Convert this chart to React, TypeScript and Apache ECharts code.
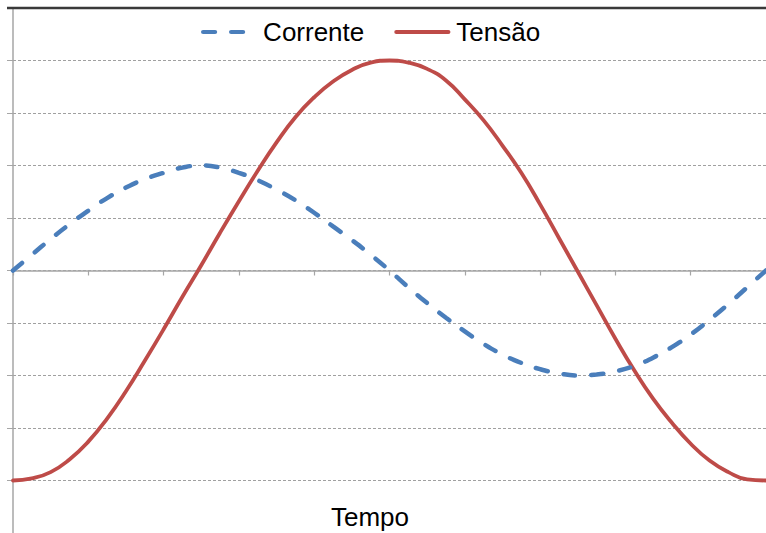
import React, { useEffect, useRef } from "react";
import * as echarts from "echarts";

// x positions (arbitrary time units)
const tempo = [
  0, 0.25, 0.5, 0.75, 1, 1.25, 1.5, 1.75, 2, 2.25, 2.5, 2.75, 3, 3.25, 3.5, 3.75, 4, 4.25, 4.5, 4.75,
  5, 5.25, 5.5, 5.75, 6, 6.25, 6.5, 6.75, 7, 7.25, 7.5, 7.75, 8, 8.25, 8.5, 8.75, 9, 9.25, 9.5, 9.75, 10,
];
// values
const corrente = [
  0, 0.15, 0.3, 0.44, 0.57, 0.69, 0.79, 0.87, 0.93, 0.98, 1.0, 0.98, 0.93, 0.86, 0.77, 0.67, 0.55, 0.42, 0.29, 0.15,
  0, -0.16, -0.31, -0.45, -0.58, -0.7, -0.8, -0.88, -0.94, -0.98, -1.0, -0.99, -0.96, -0.91, -0.83, -0.73, -0.61, -0.47, -0.32, -0.16, 0,
];
const tensao = [
  -2.0, -1.98, -1.92, -1.8, -1.63, -1.41, -1.15, -0.86, -0.56, -0.25, 0.05, 0.36, 0.66, 0.95, 1.22, 1.46, 1.65, 1.8, 1.91, 1.98,
  2.0, 1.98, 1.92, 1.81, 1.63, 1.43, 1.19, 0.93, 0.63, 0.31, -0.01, -0.33, -0.65, -0.95, -1.22, -1.45, -1.65, -1.81, -1.92, -1.99, -2.0,
];

const names = ["Corrente", "Tensão"];
const xTitle = "Tempo";

export default function App() {
  const ref = useRef<HTMLDivElement>(null);
  useEffect(() => {
    if (!ref.current) return;
    const chart = echarts.init(ref.current, null, { renderer: "svg" });
    const font = "Liberation Sans, Arial, sans-serif";
    chart.setOption({
      animation: false,
      backgroundColor: "#ffffff",
      grid: { left: 13, top: 8, right: -12, bottom: -1.5, containLabel: false },
      legend: {
        data: names,
        left: 196,
        top: 14,
        itemWidth: 52,
        itemHeight: 14,
        itemGap: 30,
        itemStyle: { opacity: 0 },
        lineStyle: { width: 4.2 },
        textStyle: { fontFamily: font, fontSize: 26, color: "#000", padding: [0, 0, 0, 3] },
      },
      xAxis: [
        {
          type: "value",
          min: 0,
          max: 10,
          interval: 1,
          axisLine: { show: true, onZero: true, lineStyle: { color: "#a6a6a6", width: 1.5 } },
          axisTick: { show: true, length: 5, lineStyle: { color: "#a6a6a6", width: 1.2 } },
          axisLabel: { show: false },
          splitLine: { show: false },
        },
        {
          type: "value",
          position: "top",
          min: 0,
          max: 10,
          interval: 1,
          axisLine: { show: true, onZero: false, lineStyle: { color: "#3a3a3a", width: 2 } },
          axisTick: { show: false },
          axisLabel: { show: false },
          splitLine: { show: false },
        },
      ],
      yAxis: {
        type: "value",
        min: -2.5,
        max: 2.5,
        interval: 0.5,
        axisLine: { show: true, onZero: false, lineStyle: { color: "#a6a6a6", width: 1.5 } },
        axisTick: { show: true, length: 6, lineStyle: { color: "#a6a6a6" } },
        axisLabel: { show: false },
        splitLine: { show: true, lineStyle: { color: "#a0a0a0", width: 1, type: [3, 2] } },
      },
      graphic: [
        {
          type: "rect",
          shape: { x: 7, y: 6.8, width: 759, height: 2.4 },
          style: { fill: "#3a3a3a" },
          z: 100,
        },
        {
          type: "text",
          x: 370,
          y: 517,
          style: {
            text: xTitle,
            fontFamily: font,
            fontSize: 26,
            fill: "#000",
            align: "center",
            verticalAlign: "middle",
          },
        },
      ],
      series: [
        {
          name: names[0],
          type: "line",
          data: tempo.map((t, i) => [t, corrente[i]]),
          smooth: true,
          showSymbol: false,
          symbol: "none",
          color: "#4a7ebb",
          lineStyle: { color: "#4a7ebb", width: 4.5, type: [12, 16], cap: "round" },
          z: 3,
        },
        {
          name: names[1],
          type: "line",
          data: tempo.map((t, i) => [t, tensao[i]]),
          smooth: true,
          showSymbol: false,
          symbol: "none",
          color: "#be4b48",
          lineStyle: { color: "#be4b48", width: 3.8, cap: "round" },
          z: 2,
        },
      ],
    });
    return () => chart.dispose();
  }, []);
  return <div ref={ref} style={{ position: "absolute", left: 0, top: 0, width: 766, height: 533 }} />;
}
